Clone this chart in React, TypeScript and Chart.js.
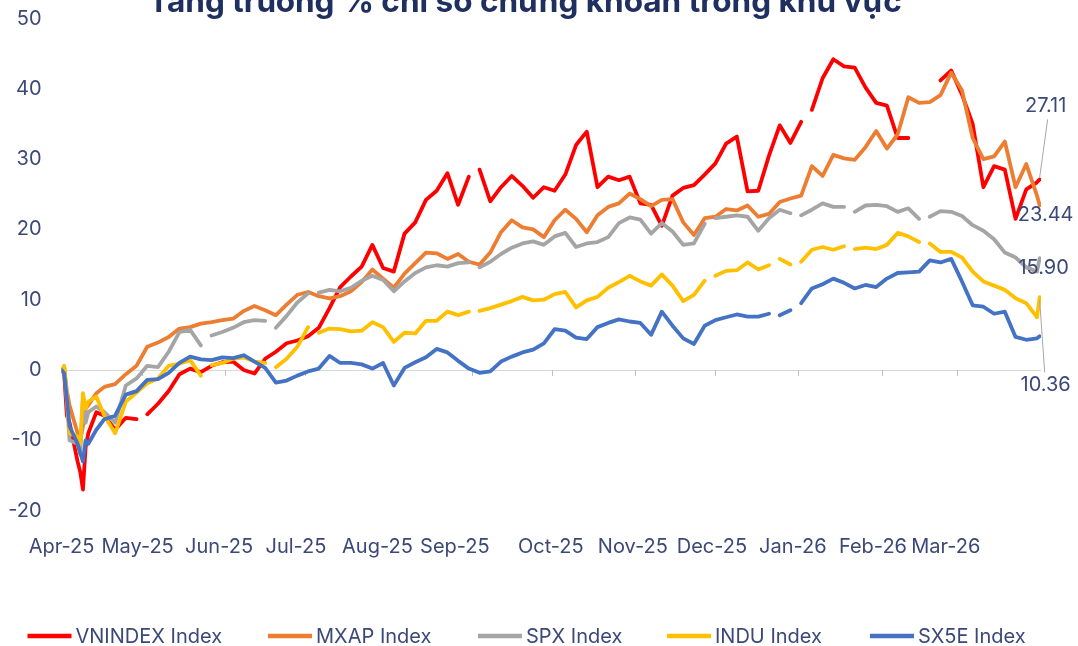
import { useEffect, useRef } from 'react';
import { Chart, registerables } from 'chart.js';

Chart.register(...registerables);

const TITLE = 'Tăng trưởng % chỉ số chứng khoán trong khu vực';

// x positions: days since 1 Apr 2025
const DAYS = [
  0, 1, 2, 3, 6, 7, 8, 9, 10, 13,
  16, 20, 24, 28, 32, 36, 40, 44, 48, 52,
  56, 60, 64, 68, 72, 76, 80, 84, 88, 92,
  96, 100, 104, 108, 112, 116, 120, 124, 128, 132,
  136, 140, 144, 148, 152, 156, 160, 164, 168, 172,
  176, 180, 184, 188, 192, 196, 200, 204, 208, 212,
  216, 220, 224, 228, 232, 236, 240, 244, 248, 252,
  256, 260, 264, 268, 272, 276, 280, 284, 288, 292,
  296, 300, 304, 308, 312, 316, 320, 324, 328, 332,
  336, 340, 344, 348, 352, 356, 360, 364, 365,
];

const VNINDEX = [
  0, -0.5, -6.5, -7.5, -13, -14.5, -17, -11, -9, -6,
  -6.5, -8.5, -6.8, -7, -6.3, -4.8, -3, -0.6, 0.2, -0.3,
  0.6, 1.1, 1.2, 0, -0.5, 1.6, 2.6, 3.8, 4.2, 4.8,
  6, 8.8, 11.8, 13.3, 14.7, 17.8, 14.5, 14, 19.4, 21,
  24.2, 25.5, 28, 23.5, 27.5, 28.5, 24, 26, 27.6, 26.2,
  24.5, 26, 25.5, 27.8, 32, 33.9, 26, 27.5, 27, 27.5,
  23.7, 23.5, 20.5, 24.8, 25.9, 26.3, 27.8, 29.4, 32.2, 33.2,
  25.4, 25.5, 30.5, 34.8, 32.3, 35.3, 37, 41.5, 44.2, 43.2,
  43, 40.2, 38, 37.6, 33, 33, null, null, 41.2, 42.6,
  39.2, 35, 26, 29, 28.5, 21.5, 25.7, 26.7, 27.11,
];
const MXAP = [
  0, 0.2, -3, -5, -9, -10, -8, -5.5, -5, -3.3,
  -2.4, -2, -0.6, 0.6, 3.3, 3.9, 4.7, 5.9, 6.1, 6.6,
  6.8, 7.1, 7.3, 8.4, 9.1, 8.5, 7.8, 9.3, 10.7, 11.1,
  10.5, 10.2, 10.5, 11.2, 12.5, 14.3, 13, 11.7, 13.7, 15.2,
  16.7, 16.6, 15.8, 16.5, 15.4, 15, 16.7, 19.6, 21.3, 20.3,
  20, 18.9, 21.3, 22.8, 21.5, 19.6, 22, 23.2, 23.7, 25.1,
  24.3, 23.3, 24.2, 24.3, 21, 19.2, 21.6, 21.8, 22.9, 22.7,
  23.4, 21.8, 22.2, 23.9, 24.4, 24.8, 29, 27.6, 30.6, 30.1,
  29.9, 31.7, 34, 31.5, 33.5, 38.8, 38, 38.1, 39.1, 42.3,
  39.8, 33, 30, 30.4, 32.5, 26, 29.3, 24.8, 23.44,
];
const SPX = [
  0, 0.5, -4.5, -10, -10.5, -12, -4, -7.5, -6, -5.2,
  -6, -7.5, -2.2, -1.2, 0.6, 0.4, 2.6, 5.4, 5.7, 3.5,
  4.9, 5.4, 6, 6.8, 7.1, 7, 6, 7.7, 9.6, 10.9,
  11, 11.4, 11.2, 11.7, 12.7, 13.4, 12.8, 11.2, 12.6, 13.8,
  14.6, 14.9, 14.7, 15.2, 15.3, 14.6, 15.4, 16.5, 17.4, 18,
  18.3, 17.8, 19, 19.5, 17.5, 18, 18.2, 18.9, 20.9, 21.7,
  21.4, 19.4, 20.9, 19.7, 17.8, 18, 20.8, 21.6, 21.8, 22,
  21.8, 19.8, 21.6, 22.8, 22.3, 22, 22.8, 23.7, 23.2, 23.2,
  22.5, 23.4, 23.5, 23.3, 22.5, 23, 21.5, 21.8, 22.6, 22.5,
  21.9, 20.6, 19.8, 18.6, 16.7, 16, 14.6, 14, 15.9,
];
const INDU = [
  0, 0.6, -3.5, -9, -9.5, -10.5, -3.3, -5.5, -4.5, -3.8,
  -6.5, -9, -4.5, -3.2, -1.9, -1.2, 0.6, 0.9, 1.4, -0.8,
  0.7, 1, 1.6, 1.8, 1.2, 1, 0.4, 1.6, 3.3, 6.1,
  5.3, 5.9, 5.8, 5.5, 5.6, 6.8, 6.1, 4, 5.3, 5.2,
  7, 7, 8.3, 7.8, 8.3, 8.4, 8.8, 9.3, 9.8, 10.4,
  9.9, 10, 10.8, 11.1, 8.9, 9.9, 10.4, 11.7, 12.5, 13.4,
  12.6, 12, 13.6, 12, 9.8, 10.7, 12.7, 13.4, 14.1, 14.2,
  15.3, 14.3, 14.9, 15.8, 15, 15.4, 17.1, 17.5, 17.1, 17.6,
  17.2, 17.4, 17.2, 17.8, 19.5, 19, 18.2, 18, 16.8, 16.8,
  16, 14, 12.6, 12, 11.4, 10.2, 9.5, 7.5, 10.36,
];
const SX5E = [
  0, -0.5, -4, -8, -10.5, -11.8, -13, -10, -10.5, -8.5,
  -7, -6.5, -3.5, -3, -1.4, -1.3, -0.4, 1, 1.9, 1.5,
  1.4, 1.8, 1.7, 2.1, 1.2, 0.3, -1.8, -1.5, -0.8, -0.2,
  0.2, 2, 1, 1, 0.8, 0.2, 1, -2.2, 0.3, 1.1,
  1.8, 3, 2.5, 1.3, 0.2, -0.4, -0.2, 1.2, 1.9, 2.5,
  2.9, 3.8, 5.8, 5.6, 4.6, 4.4, 6.1, 6.7, 7.2, 6.9,
  6.7, 5, 8.3, 6.3, 4.5, 3.7, 6.3, 7.1, 7.5, 7.9,
  7.6, 7.6, 8, 7.8, 8.5, 9.5, 11.6, 12.2, 13, 12.4,
  11.6, 12.1, 11.8, 13, 13.8, 13.9, 14, 15.6, 15.3, 15.8,
  12.6, 9.2, 9, 8, 8.3, 4.7, 4.3, 4.5, 4.8,
];

// market holidays (days) where the line is broken
const VNINDEX_BREAKS = [30, 154, 278];
const MXAP_BREAKS: number[] = [];
const SPX_BREAKS = [54, 78, 94, 154, 242, 274, 294, 322];
const INDU_BREAKS = [54, 78, 94, 154, 242, 266, 274, 294, 322];
const SX5E_BREAKS = [266, 274];

const SERIES_NAMES = ['VNINDEX Index', 'MXAP Index', 'SPX Index', 'INDU Index', 'SX5E Index'];
const COLORS = ['#FF0000', '#ED7D31', '#A5A5A5', '#FFC000', '#4472C4'];

const MONTH_LABELS = ['Apr-25', 'May-25', 'Jun-25', 'Jul-25', 'Aug-25', 'Sep-25', 'Oct-25', 'Nov-25', 'Dec-25', 'Jan-26', 'Feb-26', 'Mar-26'];
const LABEL_DAYS = [0, 28.4, 58.8, 87.5, 117.9, 146.8, 182.6, 213.2, 242.7, 272.9, 302.8, 330];
const MONTH_START_DAYS = [30, 61, 91, 122, 153, 183, 214, 244, 275, 306, 334];

const TEXT_COLOR = '#3B4878';
const FONT = 'Inter, "Noto Sans", Arial, sans-serif';

function buildPoints(values: (number | null)[], breaks: number[]) {
  const pts: { x: number; y: number | null }[] = DAYS.map((d, i) => ({ x: d, y: values[i] }));
  breaks.forEach((b) => pts.push({ x: b, y: null }));
  pts.sort((a, b) => a.x - b.x);
  return pts;
}

const overlayPlugin = {
  id: 'overlay',
  beforeDatasetsDraw(chart: any) {
    const ctx = chart.ctx;
    const xs = chart.scales.x;
    const y0 = chart.scales.y.getPixelForValue(0);
    ctx.save();
    ctx.strokeStyle = '#BFBFBF';
    ctx.lineWidth = 1;
    MONTH_START_DAYS.forEach((d) => {
      const px = Math.round(xs.getPixelForValue(d)) + 0.5;
      ctx.beginPath();
      ctx.moveTo(px, y0);
      ctx.lineTo(px, y0 + 6);
      ctx.stroke();
    });
    ctx.restore();
  },
  afterDraw(chart: any) {
    const ctx = chart.ctx;
    ctx.save();
    // title (partly cut at the top, as in the source)
    ctx.fillStyle = '#1F3060';
    ctx.font = 'bold 31.5px ' + FONT;
    ctx.textAlign = 'center';
    ctx.textBaseline = 'alphabetic';
    ctx.fillText(TITLE, 525, 12);

    // end-value annotations
    const ann = [
      { ds: 0, dx: 6, dy: -73, lead: [8, -60, 0, -2] },
      { ds: 1, dx: 6, dy: 10, lead: null },
      { ds: 2, dx: 4, dy: 10, lead: null },
      { ds: 3, dx: 6, dy: 88, lead: [5, 75, 0, 3] },
    ];
    ctx.font = '20px ' + FONT;
    ctx.textAlign = 'center';
    ctx.textBaseline = 'middle';
    ann.forEach((a) => {
      const meta = chart.getDatasetMeta(a.ds);
      const el = meta.data[meta.data.length - 1];
      const data = chart.data.datasets[a.ds].data;
      const v = data[data.length - 1].y;
      if (a.lead) {
        ctx.strokeStyle = '#A6A6A6';
        ctx.lineWidth = 1;
        ctx.beginPath();
        ctx.moveTo(el.x + a.lead[0], el.y + a.lead[1]);
        ctx.lineTo(el.x + a.lead[2], el.y + a.lead[3]);
        ctx.stroke();
      }
      ctx.fillStyle = TEXT_COLOR;
      ctx.fillText(v.toFixed(2), el.x + a.dx, el.y + a.dy);
    });

    // legend
    const legendX = [27.5, 268, 478, 667, 870];
    const ly = 636;
    ctx.textAlign = 'left';
    ctx.textBaseline = 'middle';
    ctx.font = '20px ' + FONT;
    SERIES_NAMES.forEach((name, i) => {
      ctx.strokeStyle = COLORS[i];
      ctx.lineWidth = 4.5;
      ctx.beginPath();
      ctx.moveTo(legendX[i], ly);
      ctx.lineTo(legendX[i] + 44, ly);
      ctx.stroke();
      ctx.fillStyle = TEXT_COLOR;
      ctx.fillText(name, legendX[i] + 48, ly + 1);
    });
    ctx.restore();
  },
};

export default function App() {
  const ref = useRef<HTMLCanvasElement>(null);

  useEffect(() => {
    document.body.style.margin = '0';
    const canvas = ref.current;
    if (!canvas) return;
    const seriesValues = [VNINDEX, MXAP, SPX, INDU, SX5E];
    const seriesBreaks = [VNINDEX_BREAKS, MXAP_BREAKS, SPX_BREAKS, INDU_BREAKS, SX5E_BREAKS];
    const chart = new Chart(canvas, {
      type: 'line',
      data: {
        datasets: SERIES_NAMES.map((name, i) => ({
          label: name,
          data: buildPoints(seriesValues[i], seriesBreaks[i]),
          borderColor: COLORS[i],
          backgroundColor: COLORS[i],
          borderWidth: 3.8,
          pointRadius: 0,
          pointHoverRadius: 0,
          tension: 0,
          spanGaps: false,
          borderJoinStyle: 'round',
          borderCapStyle: 'round',
          order: SERIES_NAMES.length - i,
        })) as any,
      },
      options: {
        responsive: false,
        animation: false,
        devicePixelRatio: 1,
        layout: { padding: { top: 18.5, right: 37, bottom: 0, left: 0 } },
        plugins: {
          legend: { display: false },
          tooltip: { enabled: false },
          title: { display: false },
        },
        scales: {
          x: {
            type: 'linear',
            min: 0,
            max: 365.5,
            grid: { display: false },
            border: { display: false },
            afterBuildTicks: (scale: any) => {
              scale.ticks = LABEL_DAYS.map((v) => ({ value: v }));
            },
            afterFit: (scale: any) => {
              scale.height = 135.4;
              scale.paddingLeft = 0;
              scale.paddingRight = 0;
            },
            ticks: {
              autoSkip: false,
              maxRotation: 0,
              minRotation: 0,
              padding: 16,
              color: TEXT_COLOR,
              font: { family: FONT, size: 20 },
              callback: (_v: any, i: number) => MONTH_LABELS[i],
            },
          },
          y: {
            type: 'linear',
            min: -20,
            max: 50,
            border: { display: false },
            grid: {
              drawTicks: false,
              color: (c: any) => (c.tick && c.tick.value === 0 ? '#D9D9D9' : 'rgba(0,0,0,0)'),
              lineWidth: 1,
            },
            afterFit: (scale: any) => {
              scale.width = 61.5;
              scale.paddingTop = 0;
              scale.paddingBottom = 0;
            },
            ticks: {
              stepSize: 10,
              padding: 20,
              color: TEXT_COLOR,
              font: { family: FONT, size: 20 },
            },
          },
        },
      } as any,
      plugins: [overlayPlugin],
    });
    return () => chart.destroy();
  }, []);

  return (
    <div style={{ width: 1078, height: 646, background: '#fff' }}>
      <canvas ref={ref} width={1078} height={646} style={{ display: 'block' }} />
    </div>
  );
}
